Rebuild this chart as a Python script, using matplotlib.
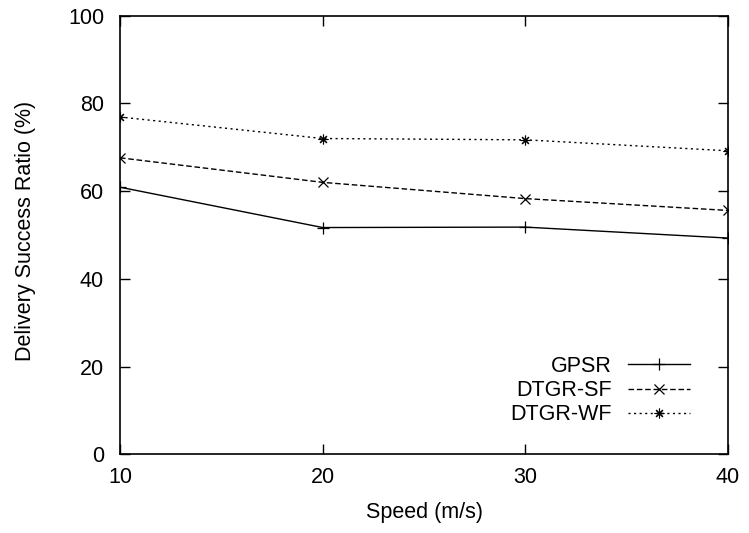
import matplotlib
matplotlib.use("Agg")
import matplotlib.pyplot as plt

speed = [10, 20, 30, 40]
gpsr = [60.9, 51.7, 51.8, 49.3]
dtgr_sf = [67.6, 62.0, 58.3, 55.6]
dtgr_wf = [76.9, 72.0, 71.7, 69.2]
labels = ["GPSR", "DTGR-SF", "DTGR-WF"]
xticks = [10, 20, 30, 40]
yticks = [0, 20, 40, 60, 80, 100]

FS = 15.5
plt.rcParams['font.family'] = ['Liberation Sans', 'DejaVu Sans']
fig = plt.figure(figsize=(7.49, 5.33), dpi=100)
ax = fig.add_axes([120/749, 78.7/533, 608/749, 438.6/533])

ax.plot(speed, gpsr, color='black', lw=1, ls='-', marker='+', ms=8, mew=0.9, label=labels[0])
ax.plot(speed, dtgr_sf, color='black', lw=1, ls=(0, (4, 2)), marker='x', ms=6.5, mew=0.9, label=labels[1])
ax.plot(speed, dtgr_wf, color='black', lw=1, ls=(0, (1.5, 2.5)), marker=(8, 2, 0), ms=7, mew=0.8, label=labels[2])

ax.set_xlim(10, 40)
ax.set_ylim(0, 100)
ax.set_xticks(xticks)
ax.set_yticks(yticks)
ax.tick_params(direction='in', length=7, width=1, top=True, right=True, labelsize=FS)
ax.tick_params(axis='y', pad=11.5)
ax.tick_params(axis='x', pad=9)
for s in ax.spines.values():
    s.set_linewidth(1.2)
ax.set_xlabel("Speed (m/s)", fontsize=FS)
ax.set_ylabel("Delivery Success Ratio (%)", fontsize=FS)
ax.xaxis.set_label_coords(0.5, -0.108)
ax.yaxis.set_label_coords(-0.138, 0.51)

leg = ax.legend(loc='lower right', bbox_to_anchor=(0.9375, 0.066), frameon=False, fontsize=FS,
                markerfirst=False, handlelength=2.9, labelspacing=0.15, handletextpad=0.75,
                borderpad=0, borderaxespad=0)
leg._legend_box.align = "right"
for t in leg.get_texts():
    t.set_ha('right')
fig.savefig("out.png", dpi=100)
